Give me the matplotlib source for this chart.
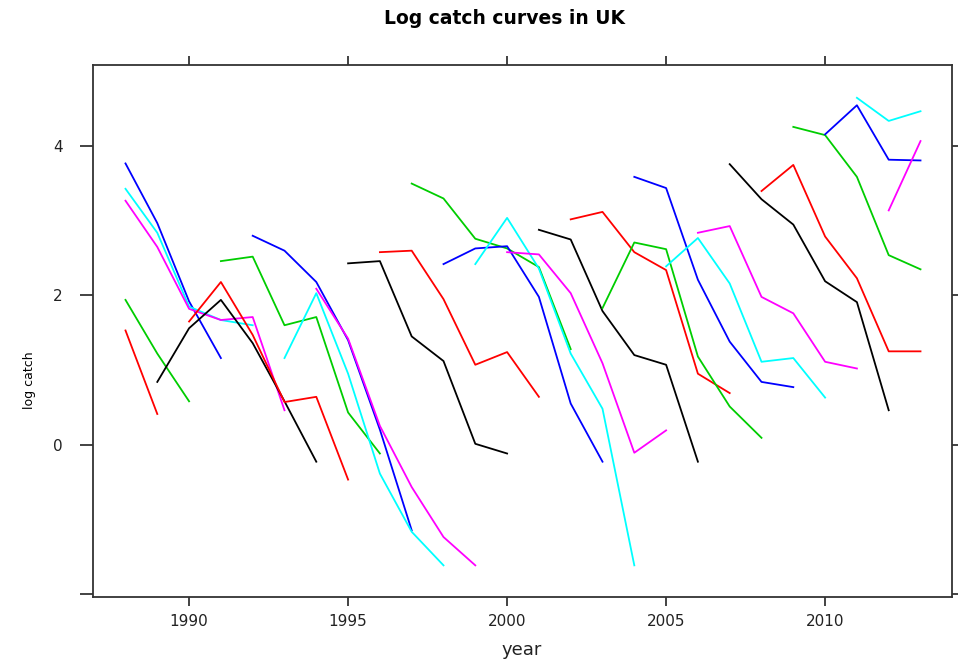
import matplotlib
matplotlib.use("Agg")
import matplotlib.pyplot as plt

# ==========================
# Data: log catch by cohort (first year seen, values by year)
# ==========================

cohort_start = [
    1988, 1988, 1988, 1988, 1988, 1989,
    1990, 1991, 1992, 1993, 1994, 1995,
    1996, 1997, 1998, 1999, 2000, 2001,
    2002, 2003, 2004, 2005, 2006, 2007,
    2008, 2009, 2010, 2011, 2012,
]

cohort_logcatch = [
    [1.53, 0.41],
    [1.94, 1.22, 0.58],
    [3.77, 2.97, 1.92, 1.16],
    [3.43, 2.84, 1.85, 1.67, 1.60],
    [3.27, 2.65, 1.82, 1.67, 1.71, 0.46],
    [0.84, 1.56, 1.94, 1.36, 0.58, -0.23],
    [1.65, 2.18, 1.47, 0.57, 0.64, -0.47],
    [2.46, 2.52, 1.60, 1.71, 0.43, -0.12],
    [2.80, 2.60, 2.18, 1.40, 0.20, -1.15],
    [1.16, 2.03, 0.95, -0.39, -1.17, -1.62],
    [2.09, 1.42, 0.25, -0.57, -1.24, -1.62],
    [2.43, 2.46, 1.45, 1.12, 0.01, -0.12],
    [2.58, 2.60, 1.95, 1.07, 1.24, 0.64],
    [3.50, 3.30, 2.76, 2.63, 2.38, 1.28],
    [2.42, 2.63, 2.66, 1.98, 0.55, -0.23],
    [2.42, 3.04, 2.36, 1.22, 0.48, -1.62],
    [2.58, 2.55, 2.03, 1.09, -0.11, 0.19],
    [2.88, 2.75, 1.79, 1.20, 1.07, -0.23],
    [3.02, 3.12, 2.58, 2.34, 0.95, 0.69],
    [1.83, 2.71, 2.62, 1.18, 0.51, 0.09],
    [3.59, 3.44, 2.21, 1.38, 0.84, 0.77],
    [2.39, 2.77, 2.16, 1.11, 1.16, 0.63],
    [2.84, 2.93, 1.98, 1.76, 1.11, 1.02],
    [3.76, 3.29, 2.95, 2.19, 1.91, 0.46],
    [3.40, 3.75, 2.79, 2.23, 1.25, 1.25],
    [4.26, 4.15, 3.59, 2.54, 2.35],
    [4.16, 4.55, 3.82, 3.81],
    [4.65, 4.34, 4.47],
    [3.14, 4.07],
]

line_colors = ["#FF0000", "#00CD00", "#0000FF", "#00FFFF", "#FF00FF", "#000000"]

x_ticks = [1990, 1995, 2000, 2005, 2010]
y_ticks = [-2, 0, 2, 4]
y_tick_labels = ["", "0", "2", "4"]

# ==========================
# Plot
# ==========================

fig = plt.figure(figsize=(9.58, 6.66), dpi=100)
ax = fig.add_axes([0.0968, 0.1041, 0.8966, 0.7983])

for i, (start, vals) in enumerate(zip(cohort_start, cohort_logcatch)):
    years = list(range(start, start + len(vals)))
    ax.plot(years, vals, color=line_colors[i % len(line_colors)], lw=1.3)

ax.set_xlim(1986.97, 2013.98)
ax.set_ylim(-2.04, 5.09)

ax.set_xticks(x_ticks)
ax.set_xticklabels([str(t) for t in x_ticks])
ax.set_yticks(y_ticks)
ax.set_yticklabels(y_tick_labels)

ax.tick_params(axis="x", direction="out", length=6.5, width=1.2,
               top=True, labeltop=False, labelsize=11, pad=6,
               colors="#222222")
ax.tick_params(axis="y", direction="out", length=9.5, width=1.2,
               right=True, labelright=False, labelsize=11, pad=12,
               colors="#222222")

for sp in ax.spines.values():
    sp.set_color("#333333")
    sp.set_linewidth(1.3)

fig.text(505 / 958, 1 - 18 / 666, "Log catch curves in UK",
         ha="center", va="center", fontsize=13.5, fontweight="bold")
fig.text(522 / 958, 1 - 650 / 666, "year",
         ha="center", va="center", fontsize=13, color="#222222")
fig.text(30 / 958, 1 - 380 / 666, "log catch",
         ha="center", va="center", fontsize=9, rotation=90)

fig.savefig("out.png", dpi=100)
